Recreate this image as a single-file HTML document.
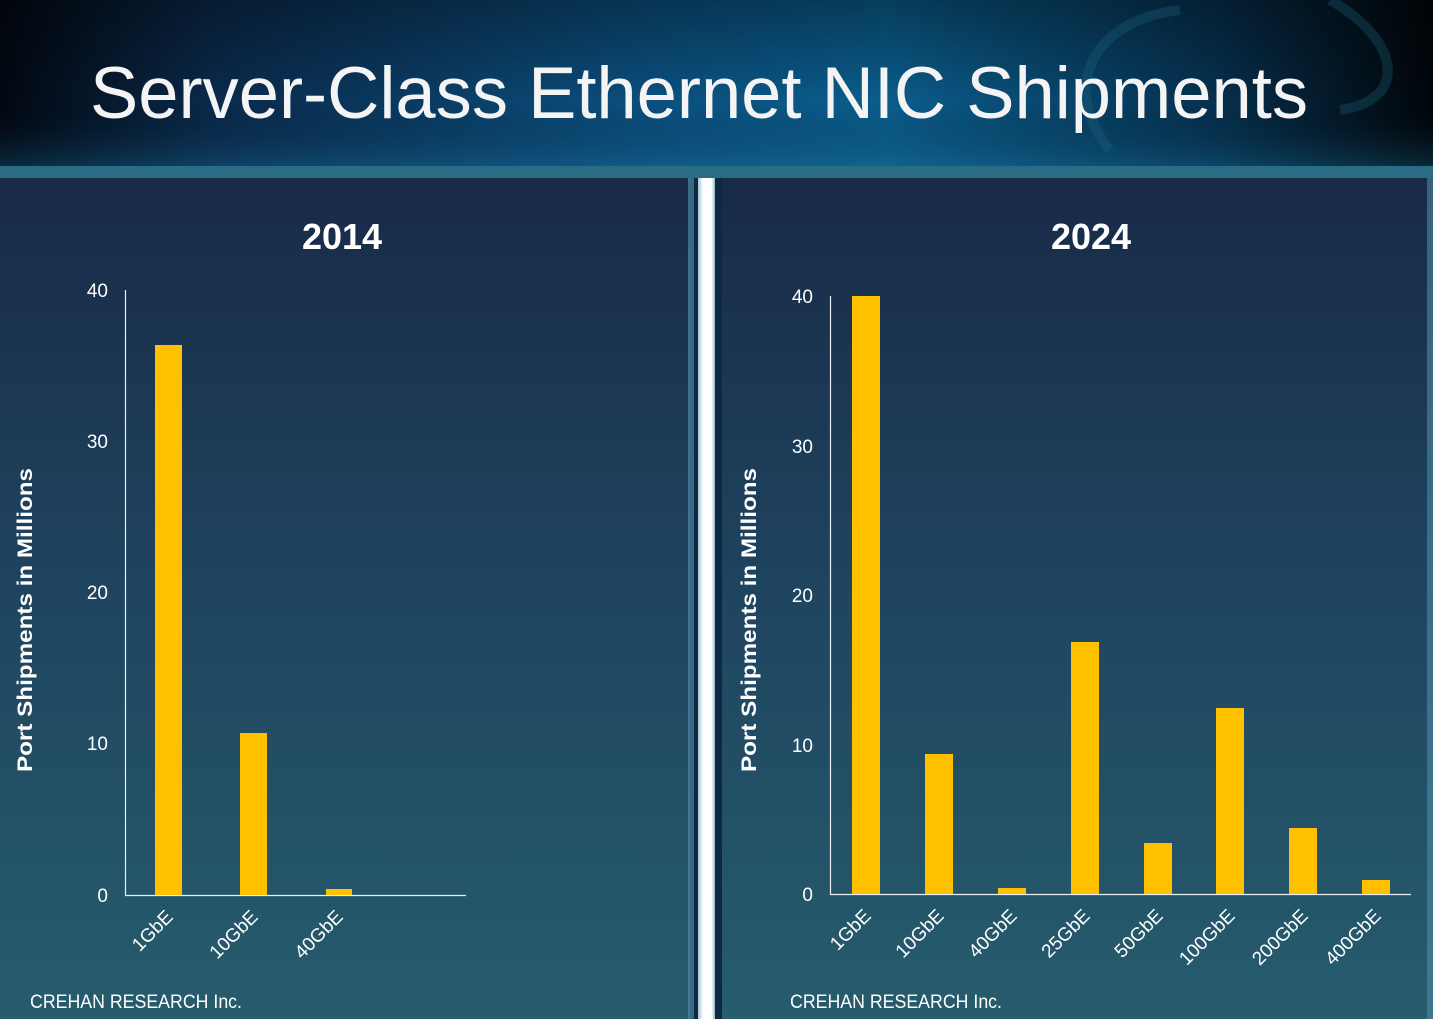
<!DOCTYPE html>
<html><head><meta charset="utf-8"><style>
html,body{margin:0;padding:0;background:#0a1a2e;}
svg{display:block;font-family:"Liberation Sans",Arial,sans-serif;}
</style></head><body>
<svg width="1433" height="1019" viewBox="0 0 1433 1019" xmlns="http://www.w3.org/2000/svg">
<defs>
<linearGradient id="hdr" x1="0" y1="0" x2="1" y2="0">
<stop offset="0" stop-color="#020812"/><stop offset="0.15" stop-color="#0a2a4c"/><stop offset="0.45" stop-color="#0b4f7e"/><stop offset="0.62" stop-color="#0a5d8c"/><stop offset="0.85" stop-color="#06304e"/><stop offset="1" stop-color="#010509"/>
</linearGradient>
<linearGradient id="hdrv" x1="0" y1="0" x2="0" y2="1">
<stop offset="0" stop-color="#000" stop-opacity="0.35"/><stop offset="0.6" stop-color="#000" stop-opacity="0"/><stop offset="1" stop-color="#1c7aa8" stop-opacity="0.35"/>
</linearGradient>
<linearGradient id="pan" x1="0" y1="0" x2="0" y2="1">
<stop offset="0" stop-color="#182a47"/><stop offset="0.5" stop-color="#1f4560"/><stop offset="1" stop-color="#265c6d"/>
</linearGradient>
<linearGradient id="wb" x1="0" y1="0" x2="1" y2="0">
<stop offset="0" stop-color="#9fc6d8"/><stop offset="0.3" stop-color="#ffffff"/><stop offset="0.8" stop-color="#ffffff"/><stop offset="1" stop-color="#8fb6c8"/>
</linearGradient>
</defs>
<rect width="1433" height="172" fill="url(#hdr)"/>
<rect width="1433" height="172" fill="url(#hdrv)"/>
<path d="M1110 150 C1060 90 1090 20 1180 10" stroke="#1d6a80" stroke-width="10" fill="none" opacity="0.3"/>
<path d="M1330 0 C1400 40 1410 100 1340 110" stroke="#1d6a80" stroke-width="10" fill="none" opacity="0.3"/>
<rect x="0" y="166" width="1433" height="12" fill="#2a6c84"/>
<text x="90" y="118" font-size="73" fill="#f4f4f4" textLength="1218" lengthAdjust="spacingAndGlyphs">Server-Class Ethernet NIC Shipments</text>

<rect x="0" y="178" width="690" height="841" fill="url(#pan)"/>
<rect x="688" y="178" width="6" height="841" fill="#4c8aa6" opacity="0.7"/>
<rect x="694" y="178" width="28" height="841" fill="#0e2a40"/>
<rect x="698" y="178" width="17" height="841" fill="url(#wb)"/>
<rect x="722" y="178" width="711" height="841" fill="url(#pan)"/>
<rect x="1427" y="178" width="6" height="841" fill="#4c8aa6" opacity="0.6"/>

<!-- Left chart -->
<text x="342" y="249" font-size="36" font-weight="bold" fill="#fff" text-anchor="middle">2014</text>
<g font-size="19" fill="#fff" text-anchor="end">
<text x="108" y="297">40</text><text x="108" y="448">30</text><text x="108" y="599">20</text><text x="108" y="750">10</text><text x="108" y="902">0</text>
</g>
<line x1="125.5" y1="290" x2="125.5" y2="895" stroke="#e8eef2" stroke-width="1.2"/>
<line x1="125" y1="895.5" x2="466" y2="895.5" stroke="#e8eef2" stroke-width="1.2"/>
<g fill="#ffc000">
<rect x="155" y="345" width="27" height="550"/>
<rect x="240" y="733" width="27" height="162"/>
<rect x="326" y="889" width="26" height="6"/>
</g>
<g font-size="19" fill="#fff" text-anchor="end">
<text transform="translate(174,918) rotate(-45)">1GbE</text>
<text transform="translate(259,918) rotate(-45)">10GbE</text>
<text transform="translate(344,918) rotate(-45)">40GbE</text>
</g>
<text transform="translate(32,620) rotate(-90)" font-size="21" font-weight="bold" fill="#fff" text-anchor="middle" textLength="304" lengthAdjust="spacingAndGlyphs">Port Shipments in Millions</text>
<text x="30" y="1008" font-size="19" fill="#fff" textLength="212" lengthAdjust="spacingAndGlyphs">CREHAN RESEARCH Inc.</text>

<!-- Right chart -->
<text x="1091" y="249" font-size="36" font-weight="bold" fill="#fff" text-anchor="middle">2024</text>
<g font-size="19" fill="#fff" text-anchor="end">
<text x="813" y="303">40</text><text x="813" y="453">30</text><text x="813" y="602">20</text><text x="813" y="752">10</text><text x="813" y="901">0</text>
</g>
<line x1="830.5" y1="296" x2="830.5" y2="894" stroke="#e8eef2" stroke-width="1.2"/>
<line x1="830" y1="894.5" x2="1411" y2="894.5" stroke="#e8eef2" stroke-width="1.2"/>
<g fill="#ffc000">
<rect x="852" y="296" width="28" height="598"/>
<rect x="925" y="754" width="28" height="140"/>
<rect x="998" y="888" width="28" height="6"/>
<rect x="1071" y="642" width="28" height="252"/>
<rect x="1144" y="843" width="28" height="51"/>
<rect x="1216" y="708" width="28" height="186"/>
<rect x="1289" y="828" width="28" height="66"/>
<rect x="1362" y="880" width="28" height="14"/>
</g>
<g font-size="19" fill="#fff" text-anchor="end">
<text transform="translate(872,917) rotate(-45)">1GbE</text>
<text transform="translate(945,917) rotate(-45)">10GbE</text>
<text transform="translate(1018,917) rotate(-45)">40GbE</text>
<text transform="translate(1091,917) rotate(-45)">25GbE</text>
<text transform="translate(1164,917) rotate(-45)">50GbE</text>
<text transform="translate(1236,917) rotate(-45)">100GbE</text>
<text transform="translate(1309,917) rotate(-45)">200GbE</text>
<text transform="translate(1382,917) rotate(-45)">400GbE</text>
</g>
<text transform="translate(756,620) rotate(-90)" font-size="21" font-weight="bold" fill="#fff" text-anchor="middle" textLength="304" lengthAdjust="spacingAndGlyphs">Port Shipments in Millions</text>
<text x="790" y="1008" font-size="19" fill="#fff" textLength="212" lengthAdjust="spacingAndGlyphs">CREHAN RESEARCH Inc.</text>
</svg>
</body></html>
